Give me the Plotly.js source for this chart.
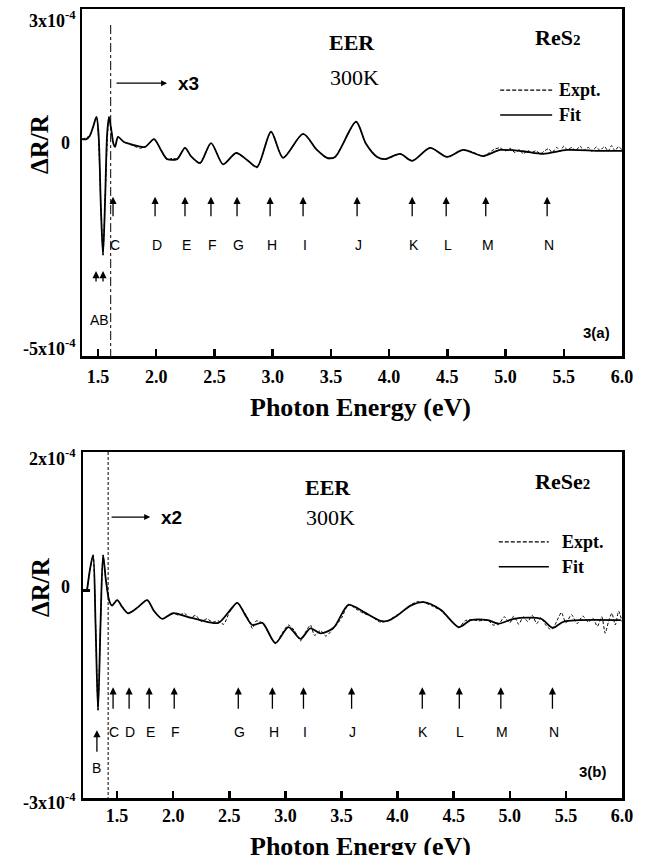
<!DOCTYPE html>
<html>
<head>
<meta charset="utf-8">
<script src="https://cdn.plot.ly/plotly-3.0.1.min.js"></script>
<style>html,body{margin:0;padding:0;background:#fff;}#chart{width:645px;height:855px;}</style>
</head>
<body>
<div id="chart"></div>
<script>
// ---------- Panel (a) ReS2 : values in units of 1e-4 (as plotted, x3 right of line) ----------
const eFitA = [1.363,1.40,1.43,1.46,1.487,1.505,1.525,1.543,1.562,1.578,
  1.594,1.612,1.632,1.646,1.672,1.72,1.80,1.904,1.981,2.04,
  2.093,2.179,2.247,2.30,2.376,2.471,2.574,2.686,2.78,2.866,
  2.986,3.089,3.261,3.38,3.467,3.536,3.716,3.80,3.897,3.966,
  4.094,4.198,4.352,4.498,4.636,4.808,4.954,5.15,5.323,5.529,
  5.80,6.0];
const fitA = [0.00,0.00,0.08,0.30,0.51,0.10,-1.60,-2.67,-1.30,0.10,
  0.51,0.25,-0.10,-0.18,0.05,-0.06,-0.13,-0.18,0.00,-0.25,
  -0.46,-0.46,-0.20,-0.40,-0.55,-0.09,-0.58,-0.32,-0.48,-0.64,
  0.17,-0.43,0.12,-0.25,-0.43,-0.41,0.40,-0.10,-0.41,-0.46,
  -0.34,-0.50,-0.20,-0.41,-0.25,-0.39,-0.25,-0.28,-0.34,-0.25,
  -0.27,-0.27];
const eExptA = [1.363,1.43,1.487,1.525,1.543,1.562,1.594,1.632,1.646,1.672,
  1.72,1.80,1.86,1.904,1.981,2.04,2.093,2.14,2.179,2.247,
  2.30,2.376,2.471,2.574,2.686,2.78,2.866,2.986,3.089,3.261,
  3.38,3.467,3.536,3.716,3.80,3.897,3.966,4.094,4.198,4.352,
  4.498,4.636,4.72,4.808,4.85,4.90,4.95,5.00,5.04,5.08,
  5.12,5.15,5.19,5.22,5.26,5.30,5.33,5.37,5.40,5.44,
  5.47,5.50,5.53,5.57,5.60,5.64,5.67,5.71,5.74,5.78,
  5.81,5.85,5.88,5.91,5.94,5.97,6.0];
const exptA = [0.00,0.08,0.51,-1.60,-2.67,-1.30,0.51,-0.10,-0.18,0.05,
  -0.06,-0.15,-0.21,-0.18,0.00,-0.25,-0.48,-0.44,-0.46,-0.20,
  -0.40,-0.57,-0.09,-0.58,-0.32,-0.48,-0.66,0.17,-0.43,0.12,
  -0.25,-0.45,-0.41,0.40,-0.10,-0.41,-0.47,-0.34,-0.50,-0.20,
  -0.41,-0.25,-0.30,-0.40,-0.33,-0.24,-0.20,-0.27,-0.21,-0.31,
  -0.24,-0.34,-0.26,-0.31,-0.27,-0.34,-0.28,-0.22,-0.31,-0.19,
  -0.28,-0.16,-0.25,-0.19,-0.27,-0.16,-0.26,-0.19,-0.28,-0.18,
  -0.26,-0.17,-0.28,-0.15,-0.27,-0.17,-0.25];
const labelsA = ['C','D','E','F','G','H','I','J','K','L','M','N'];
const eTransA = [1.629,1.99,2.247,2.47,2.694,2.978,3.261,3.725,4.198,4.49,4.83,5.357];
const labelsA0 = ['A','B'];
const eTransA0 = [1.483,1.543];

// ---------- Panel (b) ReSe2 : values in units of 1e-4 (as plotted, x2 right of line) ----------
const eFitB = [1.232,1.26,1.286,1.308,1.330,1.352,1.375,1.40,1.43,1.455,
  1.50,1.55,1.598,1.688,1.768,1.83,1.902,2.0,2.12,2.241,
  2.402,2.50,2.571,2.64,2.705,2.795,2.911,3.027,3.134,3.223,
  3.313,3.429,3.563,3.696,3.848,3.911,4.0,4.116,4.232,4.384,
  4.545,4.652,4.804,4.902,5.036,5.277,5.384,5.482,5.99];
const fitB = [0.00,0.32,0.51,-0.5,-1.73,-0.5,0.51,0.15,-0.15,-0.22,
  -0.14,-0.25,-0.33,-0.24,-0.14,-0.30,-0.41,-0.33,-0.38,-0.43,
  -0.47,-0.30,-0.18,-0.35,-0.50,-0.47,-0.76,-0.53,-0.70,-0.55,
  -0.62,-0.54,-0.21,-0.31,-0.44,-0.44,-0.36,-0.22,-0.17,-0.28,
  -0.53,-0.43,-0.43,-0.48,-0.41,-0.41,-0.54,-0.45,-0.43];
const eExptB = [1.232,1.26,1.286,1.308,1.330,1.352,1.375,1.40,1.43,1.455,
  1.50,1.55,1.598,1.688,1.768,1.83,1.902,2.0,2.05,2.10,
  2.15,2.20,2.25,2.30,2.35,2.40,2.45,2.50,2.571,2.64,
  2.68,2.705,2.74,2.795,2.85,2.911,2.97,3.027,3.08,3.134,
  3.18,3.223,3.26,3.313,3.36,3.429,3.50,3.563,3.63,3.696,
  3.76,3.848,3.911,4.0,4.06,4.116,4.18,4.232,4.30,4.384,
  4.46,4.545,4.60,4.652,4.72,4.804,4.85,4.902,4.95,5.00,
  5.036,5.08,5.12,5.16,5.20,5.24,5.277,5.32,5.36,5.384,
  5.42,5.46,5.50,5.55,5.60,5.65,5.70,5.74,5.78,5.82,
  5.85,5.88,5.91,5.94,5.97,6.0];
const exptB = [0.00,0.32,0.51,-0.5,-1.73,-0.5,0.51,0.15,-0.15,-0.22,
  -0.14,-0.25,-0.33,-0.24,-0.14,-0.30,-0.41,-0.33,-0.36,-0.33,
  -0.40,-0.36,-0.45,-0.41,-0.46,-0.44,-0.49,-0.32,-0.18,-0.33,
  -0.45,-0.55,-0.44,-0.47,-0.62,-0.77,-0.62,-0.50,-0.58,-0.73,
  -0.60,-0.50,-0.65,-0.58,-0.66,-0.55,-0.40,-0.20,-0.27,-0.33,
  -0.37,-0.46,-0.44,-0.35,-0.29,-0.21,-0.16,-0.17,-0.22,-0.29,
  -0.41,-0.54,-0.44,-0.42,-0.44,-0.43,-0.50,-0.49,-0.38,-0.47,
  -0.37,-0.49,-0.38,-0.45,-0.36,-0.48,-0.39,-0.50,-0.56,-0.55,
  -0.44,-0.32,-0.47,-0.35,-0.48,-0.37,-0.46,-0.40,-0.52,-0.38,
  -0.62,-0.45,-0.33,-0.50,-0.30,-0.45];
const labelsB = ['C','D','E','F','G','H','I','J','K','L','M','N'];
const eTransB = [1.464,1.607,1.786,2.009,2.58,2.884,3.161,3.59,4.22,4.55,4.92,5.38];
const labelsB0 = ['B'];
const eTransB0 = [1.32];

const xTicks = [1.5,2.0,2.5,3.0,3.5,4.0,4.5,5.0,5.5,6.0];
const xTickText = ['1.5','2.0','2.5','3.0','3.5','4.0','4.5','5.0','5.5','6.0'];
const yTicksA = [3,0,-5];
const yTickTextA = ['3x10<sup>-4</sup>','0','-5x10<sup>-4</sup>'];
const yTicksB = [2,0,-3];
const yTickTextB = ['2x10<sup>-4</sup>','0','-3x10<sup>-4</sup>'];
const xTitle = 'Photon Energy (eV)';
const yTitle = 'ΔR/R';
const scaleA = 'x3', scaleB = 'x2';
const cutA = 1.609, cutB = 1.42;

const SERIF = 'Liberation Serif, Times New Roman, serif';
const SANS = 'Liberation Sans, Arial, sans-serif';

const traces = [
  {x:eExptA, y:exptA, xaxis:'x', yaxis:'y', mode:'lines', name:'Expt.', showlegend:false,
   line:{color:'#000', width:1, dash:'3px,2px', shape:'spline', smoothing:0.6}},
  {x:eFitA, y:fitA, xaxis:'x', yaxis:'y', mode:'lines', name:'Fit', showlegend:false,
   line:{color:'#000', width:1.8, shape:'spline', smoothing:0.8}},
  {x:eExptB, y:exptB, xaxis:'x2', yaxis:'y2', mode:'lines', name:'Expt.', showlegend:false,
   line:{color:'#000', width:1, dash:'3px,2px', shape:'spline', smoothing:0.6}},
  {x:eFitB, y:fitB, xaxis:'x2', yaxis:'y2', mode:'lines', name:'Fit', showlegend:false,
   line:{color:'#000', width:1.8, shape:'spline', smoothing:0.8}}
];

const ann = [];
function arrowUp(xr, yr, x, yTip, len){
  ann.push({xref:xr, yref:yr, x:x, y:yTip, ax:0, ay:len, axref:'pixel', ayref:'pixel',
    showarrow:true, arrowhead:2, arrowsize:1.1, arrowwidth:1.3, arrowcolor:'#000', text:''});
}
function label(xr, yr, x, y, t){
  ann.push({xref:xr, yref:yr, x:x, y:y, text:t, showarrow:false,
    font:{family:SANS, size:14, color:'#000'}, xanchor:'center', yanchor:'middle'});
}
function txt(xr, yr, x, y, t, font, xa){
  ann.push({xref:xr, yref:yr, x:x, y:y, text:t, showarrow:false, font:font,
    xanchor:xa||'center', yanchor:'middle'});
}
// panel a transitions
eTransA.forEach((e,i)=>{ arrowUp('x','y',e,-1.33,21); label('x','y',e+0.015,-2.44,labelsA[i]); });
eTransA0.forEach((e,i)=>{ arrowUp('x','y',e,-3.04,12); });
label('x','y',(eTransA0[0]+eTransA0[1])/2,-4.17,labelsA0.join(''));
// panel b transitions
eTransB.forEach((e,i)=>{ arrowUp('x2','y2',e,-1.40,23); label('x2','y2',e+0.01,-2.05,labelsB[i]); });
eTransB0.forEach((e,i)=>{ arrowUp('x2','y2',e,-2.02,23); label('x2','y2',e,-2.57,labelsB0[i]); });

// scale arrows
ann.push({xref:'x', yref:'y', x:2.093, y:1.29, ax:1.646, ay:1.29, axref:'x', ayref:'y',
  showarrow:true, arrowhead:2, arrowsize:1, arrowwidth:1.2, arrowcolor:'#000', text:''});
txt('x','y',2.273,1.29,'<b>'+scaleA+'</b>',{family:SANS,size:19,color:'#000'});
ann.push({xref:'x2', yref:'y2', x:1.795, y:1.06, ax:1.4375, ay:1.06, axref:'x2', ayref:'y2',
  showarrow:true, arrowhead:2, arrowsize:1, arrowwidth:1.2, arrowcolor:'#000', text:''});
txt('x2','y2',1.982,1.06,'<b>'+scaleB+'</b>',{family:SANS,size:19,color:'#000'});

// panel texts
const bold22 = {family:SERIF, size:22, color:'#000', weight:'bold'};
const norm22 = {family:SERIF, size:22, color:'#000'};
const leg = {family:SERIF, size:18, color:'#000', weight:'bold'};
txt('x','y',3.682,2.22,'EER',bold22);
txt('x','y',3.70,1.43,'300K',norm22);
txt('x','y',5.443,2.35,'ReS<span style="font-size:15px">2</span>',bold22);
txt('x','y',5.443,1.13,'Expt.',leg,'left');
txt('x','y',5.443,0.556,'Fit',leg,'left');
txt('x','y',5.778,-4.45,'<b>3(a)</b>',{family:SANS,size:15,color:'#000'});
txt('x2','y2',3.384,1.48,'EER',bold22);
txt('x2','y2',3.40,1.05,'300K',norm22);
txt('x2','y2',5.473,1.57,'ReSe<span style="font-size:15px">2</span>',bold22);
txt('x2','y2',5.446,0.70,'Expt.',leg,'left');
txt('x2','y2',5.446,0.34,'Fit',leg,'left');
txt('x2','y2',5.741,-2.62,'<b>3(b)</b>',{family:SANS,size:15,color:'#000'});

// y tick labels, set as in the figure (slightly offset from the frame edges)
const yTickFont = {family:SERIF, size:18, color:'#000', weight:'bold'};
const yShiftA = [-10, -4, 9], yShiftB = [-5, 3, -3];
yTicksA.forEach((v,i)=>{ ann.push({xref:'paper', yref:'y', x:(i===1?72:78)/645, y:v, yshift:yShiftA[i],
  text:yTickTextA[i], showarrow:false, font:yTickFont, xanchor:'right', yanchor:'middle'}); });
yTicksB.forEach((v,i)=>{ ann.push({xref:'paper', yref:'y2', x:(i===1?72:78)/645, y:v, yshift:yShiftB[i],
  text:yTickTextB[i], showarrow:false, font:yTickFont, xanchor:'right', yanchor:'middle'}); });

// axis titles
const titleFont = {family:SERIF,size:26,color:'#000',weight:'bold'};
ann.push({xref:'paper', yref:'paper', x:360/645, y:1-407/855, text:xTitle,
  showarrow:false, font:titleFont, xanchor:'center', yanchor:'middle'});
ann.push({xref:'paper', yref:'paper', x:360/645, y:1-846/855, text:xTitle,
  showarrow:false, font:titleFont, xanchor:'center', yanchor:'middle'});
ann.push({xref:'paper', yref:'paper', x:40/645, y:1-144/855, text:yTitle, textangle:-90,
  showarrow:false, font:{family:SERIF,size:25,color:'#000',weight:'bold'}, xanchor:'center', yanchor:'middle'});
ann.push({xref:'paper', yref:'paper', x:40/645, y:1-587/855, text:yTitle, textangle:-90,
  showarrow:false, font:{family:SERIF,size:25,color:'#000',weight:'bold'}, xanchor:'center', yanchor:'middle'});

const shapes = [
  {type:'line', xref:'x', yref:'y', x0:cutA, x1:cutA, y0:2.63, y1:-5, line:{color:'#000', width:1, dash:'dashdot'}},
  {type:'line', xref:'x2', yref:'y2', x0:cutB, x1:cutB, y0:2, y1:-3, line:{color:'#000', width:1, dash:'3px,2px'}},
  // legend samples
  {type:'line', xref:'x', yref:'y', x0:4.954, x1:5.40, y0:1.13, y1:1.13, line:{color:'#000', width:1.2, dash:'4px,2px'}},
  {type:'line', xref:'x', yref:'y', x0:4.954, x1:5.40, y0:0.556, y1:0.556, line:{color:'#000', width:1.5}},
  {type:'line', xref:'x2', yref:'y2', x0:4.902, x1:5.348, y0:0.70, y1:0.70, line:{color:'#000', width:1.2, dash:'4px,2px'}},
  {type:'line', xref:'x2', yref:'y2', x0:4.902, x1:5.348, y0:0.34, y1:0.34, line:{color:'#000', width:1.5}}
];

const xBase = {
  tickvals:xTicks, ticktext:xTickText, ticks:'inside', ticklen:7, tickwidth:2.5, tickcolor:'#000',
  showline:true, mirror:true, linewidth:2.5, linecolor:'#000', showgrid:false, zeroline:false,
  tickfont:{family:SERIF, size:18, color:'#000', weight:'bold'}, ticklabelstandoff:3,
  ticklabeloverflow:'allow', automargin:false
};
const yBase = {
  showline:true, mirror:true, linewidth:2.5, linecolor:'#000', showgrid:false, zeroline:false,
  showticklabels:false, automargin:false
};

const layout = {
  width:645, height:855, margin:{l:0,r:0,t:0,b:0},
  paper_bgcolor:'#fff', plot_bgcolor:'#fff', showlegend:false,
  xaxis:Object.assign({}, xBase, {domain:[82/645, 622/645], anchor:'y', range:[1.3625, 6.0]}),
  yaxis:Object.assign({}, yBase, {domain:[1-356/855, 1-9/855], anchor:'x', range:[-5,3],
    tickvals:yTicksA, ticks:''}),
  xaxis2:Object.assign({}, xBase, {domain:[83/645, 622/645], anchor:'y2', range:[1.196, 6.0], ticklabelstandoff:0}),
  yaxis2:Object.assign({}, yBase, {domain:[1-798/855, 1-452/855], anchor:'x2', range:[-3,2],
    tickvals:yTicksB, ticks:'inside', ticklen:7, tickwidth:2.5, tickcolor:'#000'}),
  annotations:ann, shapes:shapes
};

Plotly.newPlot('chart', traces, layout, {displayModeBar:false, staticPlot:true});
</script>
</body>
</html>
